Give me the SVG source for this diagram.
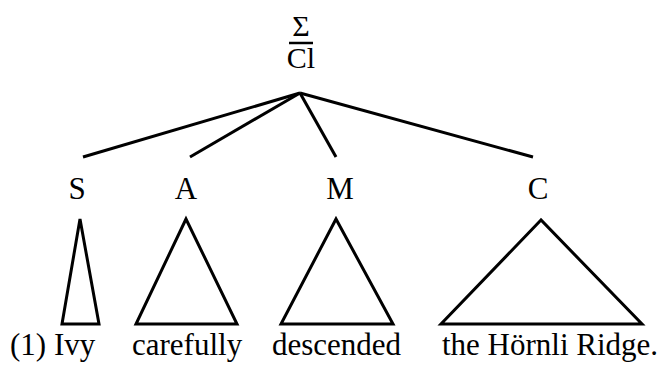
<svg xmlns="http://www.w3.org/2000/svg" width="665" height="365" viewBox="0 0 665 365" font-family="'Liberation Serif', 'DejaVu Serif', serif">
<style>
text{font-family:"Liberation Serif","DejaVu Serif",serif;font-size:31px;fill:#000}
.c{text-anchor:middle}
line,polygon{stroke:#000;stroke-width:3;fill:none;stroke-linejoin:miter}
</style>
<rect width="665" height="365" fill="#fff"/>
<g id="root">
<text class="c" x="301" y="36" style="font-size:30px">Σ</text>
<line x1="289" y1="43" x2="313" y2="43" style="stroke-width:2.5"/>
<text class="c" x="301" y="68" style="font-size:30px">Cl</text>
</g>
<g id="connectors">
<line x1="300" y1="93" x2="83" y2="157"/>
<line x1="300" y1="93" x2="190" y2="157"/>
<line x1="300" y1="93" x2="336" y2="157"/>
<line x1="300" y1="93" x2="533" y2="157"/>
</g>
<g id="S"><text class="c" x="77" y="199">S</text><polygon points="80,219 62,324 99,324"/></g>
<g id="A"><text class="c" x="186" y="199">A</text><polygon points="186,219 136,324 237,324"/></g>
<g id="M"><text class="c" x="340" y="199">M</text><polygon points="336,219 281,324 393,324"/></g>
<g id="C"><text class="c" x="538" y="199">C</text><polygon points="541,220 441,324 642,324"/></g>
<g id="words">
<text x="10" y="355">(1) Ivy</text>
<text x="132" y="355">carefully</text>
<text x="272" y="355">descended</text>
<text x="442" y="355">the Hörnli Ridge.</text>
</g>
</svg>
